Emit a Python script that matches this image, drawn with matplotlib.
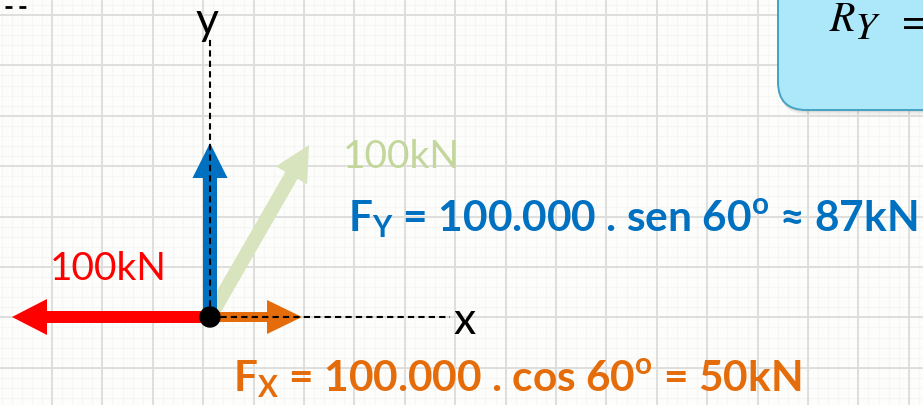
import matplotlib.pyplot as plt
import numpy as np
from matplotlib.patches import FancyArrow, FancyBboxPatch, Circle

plt.rcParams['font.family'] = ['Lato', 'DejaVu Sans']
plt.rcParams['mathtext.fontset'] = 'custom'
plt.rcParams['mathtext.rm'] = 'Lato'
plt.rcParams['mathtext.bf'] = 'Lato:bold'

# forças em kN, desenhadas a partir da origem (escala: 1 kN = 2 px)
forca_dx = [49.5, -99.0, 46.0, 0.0]      # 100kN a 60º, 100kN para a esquerda, Fx, Fy
forca_dy = [86.0, 0.0, 0.0, 87.0]
rotulos = ['100kN', '100kN',
           r'$\mathbf{F_X}$ = 100.000 . cos 60$^\mathbf{o}$ = 50kN',
           r'$\mathbf{F_Y}$ = 100.000 . sen 60$^\mathbf{o}$ ≈ 87kN']

# estilo
cores_seta = ['#d7e4bd', '#ff0000', '#e46c0a', '#0070c0']
cores_txt = ['#c3d69b', '#ff0000', '#e46c0a', '#0070c0']
haste = [7.0, 6.0, 5.0, 7.0]
cabeca = [18.0, 18.0, 17.0, 17.5]
txt_x = [66.5, -80.0, 11.5, 69.0]
txt_y = [74.5, 18.5, -37.5, 42.5]
txt_peso = ['normal', 'normal', 'bold', 'bold']
txt_tam = [28, 28, 30.5, 30.5]

fig = plt.figure(figsize=(9.23, 4.05), dpi=100, facecolor='#fdfdfb')
ax = fig.add_axes([0, 0, 1, 1])
ax.set_xlim(-105, 356.5)
ax.set_ylim(-44, 158.5)
ax.axis('off')

# papel quadriculado
passo = 25.2
for gx in np.arange(-79 - passo, 360, passo / 5):
    ax.axvline(gx, color='#f6f6f4', lw=0.8, zorder=0)
for gy in np.arange(151 + passo, -50, -passo / 5):
    ax.axhline(gy, color='#f6f6f4', lw=0.8, zorder=0)
for gx in np.arange(-79, 360, passo):
    ax.axvline(gx, color='#dcdcda', lw=1.3, zorder=0)
for gy in np.arange(151, -50, -passo):
    ax.axhline(gy, color='#dcdcda', lw=1.3, zorder=0)

# caixa azul (canto superior direito)
for k, a in enumerate([0.10, 0.07, 0.04]):
    ax.add_patch(FancyBboxPatch((284 + 0.5 * k, 102.5 - 0.8 * k), 150, 80,
                                boxstyle='round,pad=0,rounding_size=14',
                                fc='#555555', ec='none', alpha=a, zorder=1))
ax.add_patch(FancyBboxPatch((284, 103.5), 150, 80,
                            boxstyle='round,pad=0,rounding_size=14',
                            fc='#ade8fa', ec='#45a2c3', lw=1.4, zorder=2))
ax.text(310, 143, 'R', family='STIXGeneral', style='italic', fontsize=30,
        va='baseline', ha='left', zorder=3)
ax.text(322.5, 139, 'Y', family='STIXGeneral', style='italic', fontsize=28,
        va='baseline', ha='left', zorder=3)
ax.text(346, 148.5, '=', family='STIXGeneral', fontsize=30,
        va='center_baseline', ha='left', zorder=3)

# setas
for i in range(4):
    ax.add_patch(FancyArrow(0, 0, forca_dx[i], forca_dy[i], width=haste[i],
                            head_width=cabeca[i], head_length=17.5,
                            length_includes_head=True, color=cores_seta[i],
                            lw=0, zorder=4 + i))
    ax.text(txt_x[i], txt_y[i], rotulos[i], color=cores_txt[i],
            fontsize=txt_tam[i], fontweight=txt_peso[i],
            ha='left', va='baseline', zorder=10)

# eixos tracejados
ax.plot([0, 120], [0, 0], color='black', lw=1.5, dashes=(3, 2), zorder=9)
ax.plot([0, 0], [0, 139.5], color='black', lw=1.5, dashes=(3, 2), zorder=9)
ax.plot([-102.5, -91.5], [154.8, 154.8], color='black', lw=2, dashes=(2.5, 2.5), zorder=9)
ax.text(121.5, -2, 'x', fontsize=32, ha='left', va='center', zorder=10)
ax.text(-1.5, 158, 'y', fontsize=32, ha='center', va='top', zorder=10)

ax.add_patch(Circle((0, 0), 5, color='black', zorder=11))

fig.savefig('out.png', dpi=100, facecolor=fig.get_facecolor())
